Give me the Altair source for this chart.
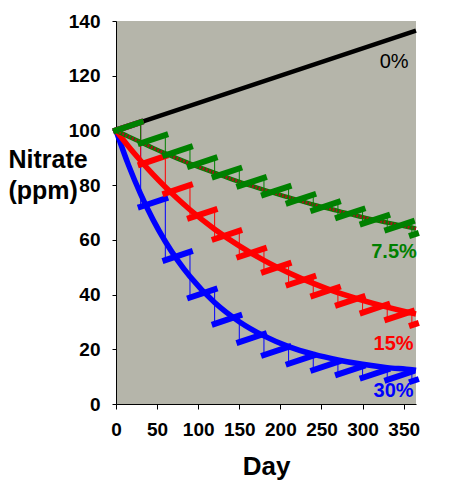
import altair as alt
import pandas as pd

# ---------------- data ----------------
series_names = ["30%", "15%", "7.5%"]
series_colors = ["#0000ff", "#ff0000", "#008000"]

# days at which each monthly saw-tooth step starts / nitrate removal happens
month_days = [0, 30, 60, 90, 120, 150, 180, 210, 240, 270, 300, 330, 360]
end_day = 365

# saw-tooth levels: value at start of each month (after removal) and at end (before removal)
low_75 = [100.0, 95.3, 90.9, 86.9, 83.1, 79.7, 76.5, 73.5, 70.8, 68.2, 65.9, 63.7, 61.7]
high_75 = [103.0, 98.3, 93.9, 89.9, 86.1, 82.7, 79.5, 76.5, 73.8, 71.2, 68.9, 66.7]
tail_75 = 62.2
low_15 = [100.0, 87.6, 77.0, 68.0, 60.3, 53.8, 48.3, 43.6, 39.6, 36.2, 33.4, 30.9, 28.8]
high_15 = [103.0, 90.6, 80.0, 71.0, 63.3, 56.8, 51.3, 46.6, 42.6, 39.2, 36.4, 33.9]
tail_15 = 29.3
low_30 = [100.0, 72.1, 52.6, 38.9, 29.3, 22.6, 17.9, 14.7, 12.4, 10.8, 9.6, 8.8, 8.3]
high_30 = [103.0, 75.1, 55.6, 41.9, 32.3, 25.6, 20.9, 17.7, 15.4, 13.8, 12.6, 11.8]
tail_30 = 8.8

# smooth curves
curve_days = [0, 15, 30, 45, 60, 75, 90, 120, 150, 180, 210, 240, 270, 300, 330, 360, 365]
curve_75 = [100, 97.8, 95.7, 93.6, 91.6, 89.7, 87.9, 84.5, 81.2, 78.3, 75.5, 72.9, 70.6, 68.3, 66.3, 64.4, 64.1]
curve_15 = [100, 94.2, 88.9, 83.9, 79.3, 75.0, 71.0, 63.9, 57.8, 52.5, 48.0, 44.1, 40.7, 37.9, 35.4, 33.2, 32.9]
curve_30 = [100, 87.5, 76.7, 67.4, 59.4, 52.5, 46.6, 37.1, 30.1, 24.9, 21.0, 18.2, 16.1, 14.5, 13.3, 12.5, 12.3]

# 0% line
control_days = [0, 365]
control_vals = [100, 136.5]

# series labels
label_texts = ["0%", "7.5%", "15%", "30%"]
label_days = [356, 366, 362, 362]
label_vals = [125.0, 55.6, 21.9, 4.6]
label_colors = ["#000000", "#008000", "#ff0000", "#0000ff"]
label_weights = ["normal", "bold", "bold", "bold"]

x_ticks = [0, 50, 100, 150, 200, 250, 300, 350]
y_ticks = [0, 20, 40, 60, 80, 100, 120, 140]

# ---------------- tables ----------------
saw = {"7.5%": (low_75, high_75, tail_75), "15%": (low_15, high_15, tail_15), "30%": (low_30, high_30, tail_30)}
seg_rows, drop_rows = [], []
for name, (low, high, tail) in saw.items():
    for i in range(12):
        seg_rows.append({"s": name, "x": month_days[i], "x2": month_days[i + 1], "y": low[i], "y2": high[i]})
        drop_rows.append({"s": name, "x": month_days[i + 1], "y": high[i], "y2": low[i + 1]})
    seg_rows.append({"s": name, "x": month_days[12], "x2": end_day, "y": low[12], "y2": tail})
seg_df = pd.DataFrame(seg_rows)
drop_df = pd.DataFrame(drop_rows)

curve_rows = []
for name, vals in [("30%", curve_30), ("15%", curve_15), ("7.5%", curve_75)]:
    for d, v in zip(curve_days, vals):
        curve_rows.append({"s": name, "day": d, "v": v})
curve_df = pd.DataFrame(curve_rows)
control_df = pd.DataFrame({"day": control_days, "v": control_vals})
label_df = pd.DataFrame({"t": label_texts, "day": label_days, "v": label_vals,
                         "c": label_colors, "w": label_weights})

FONT = "Liberation Sans"
xs = alt.Scale(domain=[0, 365], nice=False, zero=False)
ys = alt.Scale(domain=[0, 140], nice=False)

x_axis = alt.Axis(values=x_ticks, title="Day", grid=False, labelFont=FONT, labelFontSize=19,
                  labelFontWeight="bold", labelColor="black", labelPadding=11, tickSize=5,
                  tickColor="black", domainColor="black", titleFont=FONT, titleFontSize=26,
                  titleFontWeight="bold", titleColor="black", titlePadding=14, labelFlush=False)
y_axis = alt.Axis(values=y_ticks, title=["Nitrate", "(ppm)"], grid=False, labelFont=FONT,
                  labelFontSize=19, labelFontWeight="bold", labelColor="black", labelPadding=12,
                  tickSize=4, tickColor="black", domainColor="black", titleFont=FONT,
                  titleFontSize=25, titleFontWeight="bold", titleColor="black", titleAngle=0,
                  titleAlign="left", titleBaseline="top", titleX=-108, titleY=126,
                  titleLineHeight=31)

control = alt.Chart(control_df).mark_line(color="black", strokeWidth=4.5).encode(
    x=alt.X("day:Q", scale=xs, axis=x_axis), y=alt.Y("v:Q", scale=ys, axis=y_axis))

layers = [control]
for name in series_names:
    c_df = curve_df[curve_df.s == name]
    s_df = seg_df[seg_df.s == name]
    d_df = drop_df[drop_df.s == name]
    col = series_colors[series_names.index(name)]
    if name == "7.5%":
        layers.append(alt.Chart(c_df).mark_line(color=col, strokeWidth=4.5, interpolate="monotone").encode(
            x=alt.X("day:Q", scale=xs), y=alt.Y("v:Q", scale=ys)))
        layers.append(alt.Chart(c_df).mark_line(color="#a01818", strokeWidth=3, strokeDash=[2, 1.5],
                                               interpolate="monotone").encode(
            x=alt.X("day:Q", scale=xs), y=alt.Y("v:Q", scale=ys)))
    else:
        layers.append(alt.Chart(c_df).mark_line(color=col, strokeWidth=5.5, interpolate="monotone").encode(
            x=alt.X("day:Q", scale=xs), y=alt.Y("v:Q", scale=ys)))
    layers.append(alt.Chart(d_df).mark_rule(color=col, strokeWidth=1).encode(
        x=alt.X("x:Q", scale=xs), y=alt.Y("y:Q", scale=ys), y2="y2:Q"))
    layers.append(alt.Chart(s_df).mark_rule(color=col, strokeWidth=6, strokeCap="square").encode(
        x=alt.X("x:Q", scale=xs), x2="x2:Q", y=alt.Y("y:Q", scale=ys), y2="y2:Q"))

for t, d, v, c, w in zip(label_texts, label_days, label_vals, label_colors, label_weights):
    layers.append(alt.Chart(label_df[label_df.t == t]).mark_text(
        align="right", baseline="middle", font=FONT, fontSize=20, fontWeight=w, color=c).encode(
        x=alt.X("day:Q", scale=xs), y=alt.Y("v:Q", scale=ys), text="t:N"))

chart = alt.layer(*layers).properties(
    width=300, height=383,
    autosize=alt.AutoSizeParams(type="none"),
    padding={"left": 108, "top": 13, "right": 26, "bottom": 88},
    background="white",
).configure_view(fill="#b5b5aa", stroke=None)

chart.save("out.html", embed_options={"renderer": "svg", "actions": False})
